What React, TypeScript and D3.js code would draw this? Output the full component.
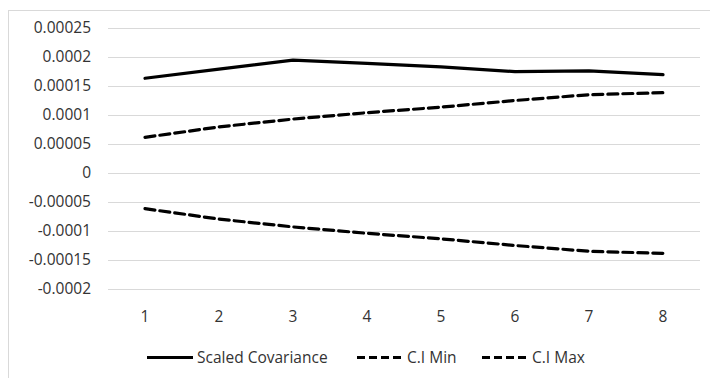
import React, { useEffect, useRef } from "react";
import * as d3 from "d3";

const categories = ["1", "2", "3", "4", "5", "6", "7", "8"];
const scaledCovariance = [0.0001633, 0.000179, 0.0001945, 0.000189, 0.000183, 0.0001747, 0.000176, 0.0001695];
const ciUpper = [0.0000615, 0.0000795, 0.000093, 0.000104, 0.0001135, 0.000125, 0.000135, 0.0001385];
const ciLower = [-0.0000615, -0.0000795, -0.000093, -0.000104, -0.0001135, -0.000125, -0.000135, -0.0001385];
const yTicks = [0.00025, 0.0002, 0.00015, 0.0001, 0.00005, 0, -0.00005, -0.0001, -0.00015, -0.0002];
const yTickLabels = ["0.00025", "0.0002", "0.00015", "0.0001", "0.00005", "0", "-0.00005", "-0.0001", "-0.00015", "-0.0002"];
const legendNames = ["Scaled Covariance", "C.I Min", "C.I Max"];

const W = 710;
const H = 378;
const FONT = "'Open Sans', sans-serif";
const FS = 15.5;
const TEXT = "#333333";

export default function App() {
  const ref = useRef<SVGSVGElement>(null);

  useEffect(() => {
    const svg = d3.select(ref.current);
    svg.selectAll("*").remove();

    const left = 108;
    const right = 700;
    const x = d3.scaleBand().domain(categories).range([left, right]);
    const y = d3.scaleLinear().domain([-0.0002, 0.00025]).range([289, 28]);

    // chart frame
    svg.append("rect")
      .attr("x", 8.5).attr("y", 10.5)
      .attr("width", W).attr("height", H)
      .attr("fill", "white").attr("stroke", "#d9d9d9");

    // horizontal gridlines
    svg.append("g").selectAll("line").data(yTicks).join("line")
      .attr("x1", left).attr("x2", right)
      .attr("y1", (d) => Math.round(y(d)) + 0.5).attr("y2", (d) => Math.round(y(d)) + 0.5)
      .attr("stroke", "#d9d9d9").attr("stroke-width", 1);

    // y tick labels
    svg.append("g").selectAll("text").data(yTicks).join("text")
      .attr("x", 91).attr("y", (d) => y(d))
      .attr("dy", "0.35em")
      .attr("text-anchor", "end")
      .attr("font-family", FONT).attr("font-size", FS)
      .attr("fill", TEXT)
      .text((_, i) => yTickLabels[i]);

    // x tick labels
    const cx = (c: string) => (x(c) as number) + x.bandwidth() / 2;
    svg.append("g").selectAll("text").data(categories).join("text")
      .attr("x", (d) => cx(d)).attr("y", 317)
      .attr("dy", "0.35em")
      .attr("text-anchor", "middle")
      .attr("font-family", FONT).attr("font-size", FS)
      .attr("fill", TEXT)
      .text((d) => d);

    const line = d3.line<number>()
      .x((_, i) => cx(categories[i]))
      .y((d) => y(d));

    const series = [
      { values: scaledCovariance, dash: null },
      { values: ciUpper, dash: "10 5" },
      { values: ciLower, dash: "10 5" },
    ];
    series.forEach((s) => {
      svg.append("path")
        .attr("d", line(s.values))
        .attr("fill", "none")
        .attr("stroke", "#000")
        .attr("stroke-width", 3.2)
        .attr("stroke-linejoin", "round")
        .attr("stroke-linecap", "round")
        .attr("stroke-dasharray", s.dash);
    });

    // legend
    const legendY = 357.5;
    const items = [
      { x0: 147, name: legendNames[0], dash: null },
      { x0: 357, name: legendNames[1], dash: "8 4" },
      { x0: 482, name: legendNames[2], dash: "8 4" },
    ];
    items.forEach((it) => {
      svg.append("line")
        .attr("x1", it.x0).attr("x2", it.x0 + 46)
        .attr("y1", legendY).attr("y2", legendY)
        .attr("stroke", "#000").attr("stroke-width", 3)
        .attr("stroke-dasharray", it.dash);
      svg.append("text")
        .attr("x", it.x0 + 50).attr("y", legendY)
        .attr("dy", "0.35em")
        .attr("font-family", FONT).attr("font-size", FS)
        .attr("fill", TEXT)
        .text(it.name);
    });
  }, []);

  return (
    <div style={{ position: "absolute", left: 0, top: 0 }}>
      <svg ref={ref} width={W} height={H} style={{ display: "block" }} />
    </div>
  );
}
